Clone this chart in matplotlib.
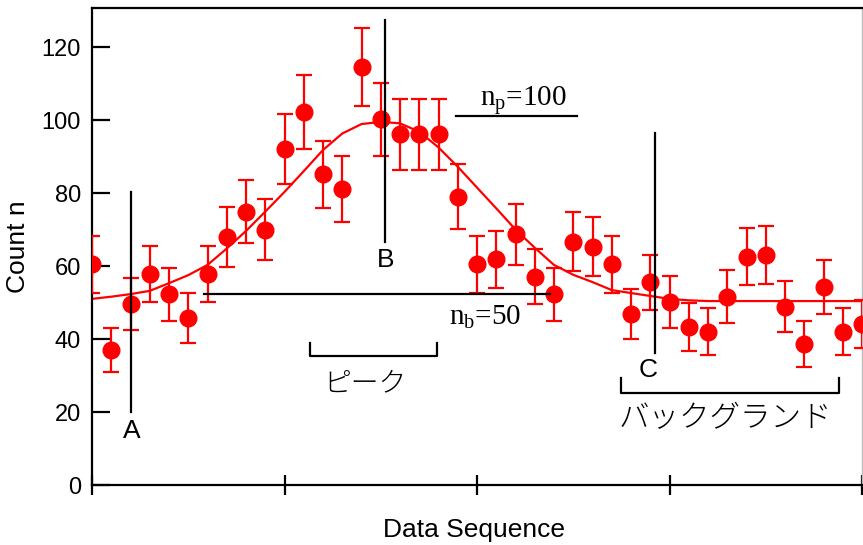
import matplotlib
matplotlib.use('Agg')
from matplotlib import pyplot as plt
import numpy as np

plt.rcParams['font.family'] = ['Liberation Sans', 'DejaVu Sans']
plt.rcParams['mathtext.fontset'] = 'custom'
plt.rcParams['mathtext.rm'] = 'Liberation Serif'
plt.rcParams['mathtext.it'] = 'Liberation Serif:italic'

# 計数データ (読み取り値)
seq = list(range(41))
counts = [60.5, 37.0, 49.6, 57.8, 52.2, 45.7, 57.8, 68.0, 74.9, 70.0,
          92.0, 102.2, 85.1, 81.1, 114.6, 100.2, 96.1, 96.1, 96.1, 79.0,
          60.5, 61.8, 68.7, 57.1, 52.2, 66.7, 65.3, 60.5, 46.8, 55.5,
          50.2, 43.4, 42.0, 51.6, 62.6, 63.0, 48.9, 38.6, 54.3, 42.0,
          44.1]
errors = [7.8, 6.1, 7.0, 7.6, 7.2, 6.8, 7.6, 8.2, 8.7, 8.4,
          9.6, 10.1, 9.2, 9.0, 10.7, 10.0, 9.8, 9.8, 9.8, 8.9,
          7.8, 7.9, 8.3, 7.6, 7.2, 8.2, 8.1, 7.8, 6.8, 7.5,
          7.1, 6.6, 6.5, 7.2, 7.9, 7.9, 7.0, 6.2, 7.4, 6.5,
          6.6]
# フィット曲線
fit = [51.0, 51.6, 52.3, 53.2, 55.3, 57.5, 60.3, 64.8, 69.6, 74.9,
       80.3, 86.0, 91.8, 96.3, 98.9, 99.5, 99.1, 96.8, 92.5, 87.2,
       81.5, 75.8, 70.0, 65.0, 60.3, 57.6, 55.6, 53.4, 52.6, 51.8,
       51.0, 50.6, 50.4, 50.4, 50.4, 50.4, 50.4, 50.4, 50.4, 50.4,
       50.4]

red = '#ff0000'
jp = ['Noto Sans CJK JP', 'DejaVu Sans']
fig = plt.figure(figsize=(8.63, 5.45), dpi=100)
ax = fig.add_axes([92 / 863, 60 / 545, 770 / 863, 477 / 545])

ax.plot(seq, fit, color=red, lw=1.6, zorder=2)
ax.errorbar(seq, counts, yerr=errors, fmt='o', color=red, ms=12,
            elinewidth=1.6, capsize=6, capthick=1.6, zorder=3)

# 注釈の線
k = dict(color='black', lw=1.6, zorder=5)
ax.plot([2.0, 2.0], [20, 80.4], **k)
ax.plot([15.2, 15.2], [66.7, 127.4], **k)
ax.plot([29.25, 29.25], [36.2, 96.4], **k)
ax.plot([5.8, 23.8], [52.4, 52.4], **k)
ax.plot([18.9, 25.2], [101.1, 101.1], **k)
ax.plot([11.3, 11.3, 17.9, 17.9], [38.8, 35.3, 35.3, 38.8], **k)
ax.plot([27.5, 27.5, 38.8, 38.8], [29.2, 25.1, 25.1, 29.2], **k)

ax.text(2.05, 14.9, 'A', fontsize=19, ha='center', va='center')
ax.text(15.25, 61.6, 'B', fontsize=19, ha='center', va='center')
ax.text(28.9, 31.5, 'C', fontsize=19, ha='center', va='center')
ax.text(22.4, 103.8, r'n$_{\rm p}$=100', fontsize=21, ha='center',
        va='baseline', family='Liberation Serif')
ax.text(20.4, 43.8, r'n$_{\rm b}$=50', fontsize=21, ha='center',
        va='baseline', family='Liberation Serif')
ax.text(14.2, 27.9, 'ピーク', fontsize=20, ha='center', va='center',
        family=jp, fontweight='light')
ax.text(32.9, 18.3, 'バックグランド', fontsize=22, ha='center', va='center',
        family=jp, fontweight='light')

ax.set_xlim(0, 40)
ax.set_ylim(0, 130.7)
ax.set_xticks([0, 10, 20, 30, 40])
ax.set_xticklabels([])
ax.set_yticks([0, 20, 40, 60, 80, 100, 120])
ax.tick_params(axis='y', direction='in', length=13, width=1.6,
               labelsize=17, pad=8)
ax.tick_params(axis='x', direction='inout', length=15, width=1.6)
for s in ['left', 'bottom', 'top']:
    ax.spines[s].set_linewidth(1.6)
ax.spines['right'].set_color('#bbbbbb')
ax.spines['right'].set_linewidth(1.0)

fig.text(474 / 863, 1 - 530 / 545, 'Data Sequence', fontsize=19,
         ha='center', va='center')
ax.set_ylabel('Count n', fontsize=19, labelpad=8)

fig.savefig('out.png', dpi=100)
